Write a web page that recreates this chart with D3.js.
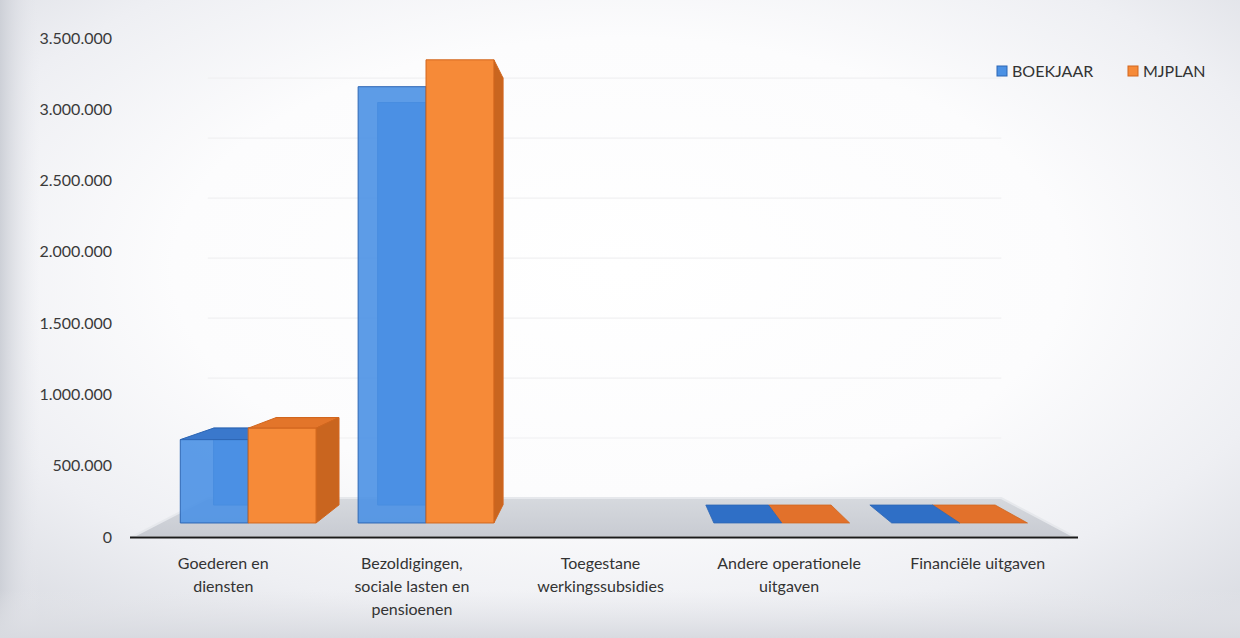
<!DOCTYPE html>
<html>
<head>
<meta charset="utf-8">
<script src="https://cdn.jsdelivr.net/npm/d3@7"></script>
<style>
  html, body { margin: 0; padding: 0; background: #ffffff; }
  svg { display: block; }
  text { font-family: Lato, "Open Sans", sans-serif; fill: #333; }
</style>
</head>
<body>
<svg id="chart" width="1240" height="638"></svg>
<script>
// ---- data ----
const categories = [
  "Goederen en diensten",
  "Bezoldigingen, sociale lasten en pensioenen",
  "Toegestane werkingssubsidies",
  "Andere operationele uitgaven",
  "Financiële uitgaven"
];
const categoryLines = [
  ["Goederen en", "diensten"],
  ["Bezoldigingen,", "sociale lasten en", "pensioenen"],
  ["Toegestane", "werkingssubsidies"],
  ["Andere operationele", "uitgaven"],
  ["Financiële uitgaven"]
];
const seriesNames = ["BOEKJAAR", "MJPLAN"];
const boekjaar = [620000, 3245000, null, 0, 0];
const mjplan   = [705000, 3445000, null, 0, 0];
const yTicks = [0, 500000, 1000000, 1500000, 2000000, 2500000, 3000000, 3500000];
const yTickLabels = ["0", "500.000", "1.000.000", "1.500.000", "2.000.000", "2.500.000", "3.000.000", "3.500.000"];

// ---- layout ----
const W = 1240, H = 638;
const svg = d3.select("#chart");
const defs = svg.append("defs");

// background vignette
const bg = defs.append("radialGradient").attr("id", "bg")
  .attr("cx", "0.5").attr("cy", "0.42").attr("r", "0.72");
bg.append("stop").attr("offset", "0").attr("stop-color", "#ffffff");
bg.append("stop").attr("offset", "0.5").attr("stop-color", "#fcfcfd");
bg.append("stop").attr("offset", "0.78").attr("stop-color", "#eeeff3");
bg.append("stop").attr("offset", "1").attr("stop-color", "#dcdee4");
svg.append("rect").attr("width", W).attr("height", H).attr("fill", "url(#bg)");
const leftStrip = defs.append("linearGradient").attr("id", "ls").attr("x1", 0).attr("x2", 1);
leftStrip.append("stop").attr("offset", 0).attr("stop-color", "#cdd0d7").attr("stop-opacity", 1);
leftStrip.append("stop").attr("offset", 1).attr("stop-color", "#e8e9ee").attr("stop-opacity", 0);
svg.append("rect").attr("x", 0).attr("y", 0).attr("width", 40).attr("height", H).attr("fill", "url(#ls)");
const botStrip = defs.append("linearGradient").attr("id", "bs").attr("x1", 0).attr("x2", 0).attr("y1", 0).attr("y2", 1);
botStrip.append("stop").attr("offset", 0).attr("stop-color", "#e6e7eb").attr("stop-opacity", 0);
botStrip.append("stop").attr("offset", 1).attr("stop-color", "#d8dae0").attr("stop-opacity", 1);
svg.append("rect").attr("x", 0).attr("y", 590).attr("width", W).attr("height", 48).attr("fill", "url(#bs)");

// scales (front plane)
const y = d3.scaleLinear().domain([0, 3500000]).range([537, 38]);
const x = d3.scaleBand().domain(categories).range([132, 1075]).paddingInner(0).paddingOuter(0);
const xs = d3.scaleBand().domain(seriesNames).range([0, x.bandwidth()]).paddingInner(0).paddingOuter(0.31);

// one-point perspective
const VX = 610, VY = 291;
const K1 = 0.057, K2 = 0.130, KF = 0.1585;
const P = (xf, yf, k) => [xf + (VX - xf) * k, yf + (VY - yf) * k];
const poly = pts => "M" + pts.map(p => p[0].toFixed(2) + "," + p[1].toFixed(2)).join("L") + "Z";

// floor
const floorG = defs.append("linearGradient").attr("id", "floor").attr("x1", 0).attr("x2", 0).attr("y1", 0).attr("y2", 1);
floorG.append("stop").attr("offset", 0).attr("stop-color", "#d6d9de");
floorG.append("stop").attr("offset", 1).attr("stop-color", "#c8cbd2");
const fx0 = x.range()[0], fx1 = x.range()[1], fy = y(0);
svg.append("path")
  .attr("d", poly([P(fx0, fy, 0), P(fx1, fy, 0), P(fx1, fy, KF), P(fx0, fy, KF)]))
  .attr("fill", "url(#floor)").attr("stroke", "#e6e8ec").attr("stroke-width", 2);

// gridlines on back wall
svg.append("g").selectAll("line").data(yTicks.filter(t => t > 0)).join("line")
  .attr("x1", d => P(fx0, y(d), KF)[0]).attr("y1", d => P(fx0, y(d), KF)[1])
  .attr("x2", d => P(fx1, y(d), KF)[0]).attr("y2", d => P(fx1, y(d), KF)[1])
  .attr("stroke", "#f0f0f2").attr("stroke-width", 1.2);

// axis line
svg.append("line").attr("x1", 130).attr("x2", 1078).attr("y1", fy + 0.5).attr("y2", fy + 0.5)
  .attr("stroke", "#1a1a1a").attr("stroke-width", 2.2);

// y labels
svg.append("g").selectAll("text").data(yTicks).join("text")
  .attr("x", 112).attr("y", d => y(d)).attr("dy", "0.35em")
  .attr("text-anchor", "end").style("font-size", "16px").style("fill", "#3a3a3a")
  .text((d, i) => yTickLabels[i]);

// bars
const colors = {
  BOEKJAAR: { front: "#4b91e4", back: "#4587da", top: "#3a78cc", side: "#2f66b6", stroke: "#2d66b4", flat: "#2f6fc6", op: 0.9 },
  MJPLAN:   { front: "#f68a38", back: "#f08232", top: "#e3752a", side: "#c9651f", stroke: "#d1661e", flat: "#e2712b", op: 1 }
};
const bars = [];
categories.forEach((c, i) => {
  [["BOEKJAAR", boekjaar[i]], ["MJPLAN", mjplan[i]]].forEach(([s, v]) => {
    if (v === null || v === undefined) return;
    const x0 = x(c) + xs(s), x1 = x0 + xs.bandwidth();
    bars.push({ c, s, v, x0, x1 });
  });
});
// draw farthest-from-vanishing-point first
bars.sort((a, b) => Math.abs((b.x0 + b.x1) / 2 - VX) - Math.abs((a.x0 + a.x1) / 2 - VX));

const barG = svg.append("g");
bars.forEach(b => {
  const col = colors[b.s];
  const yt = y(b.v), yb = y(0);
  const g = barG.append("g");
  if (b.v <= 0) {
    g.append("path").attr("d", poly([P(b.x0, yt, K1), P(b.x1, yt, K1), P(b.x1, yt, K2), P(b.x0, yt, K2)]))
      .attr("fill", col.flat).attr("stroke", col.stroke).attr("stroke-width", 0.8);
    return;
  }
  // back face (seen through transparency)
  g.append("path").attr("d", poly([P(b.x0, yt, K2), P(b.x1, yt, K2), P(b.x1, yb, K2), P(b.x0, yb, K2)]))
    .attr("fill", col.back).attr("stroke", col.stroke).attr("stroke-width", 1);
  // top
  if (yt > VY) {
    g.append("path").attr("d", poly([P(b.x0, yt, K1), P(b.x1, yt, K1), P(b.x1, yt, K2), P(b.x0, yt, K2)]))
      .attr("fill", col.top).attr("stroke", col.stroke).attr("stroke-width", 1);
  }
  // side
  const p1 = P(b.x1, yt, K1)[0], p0 = P(b.x0, yt, K1)[0];
  if (p1 < VX) {
    g.append("path").attr("d", poly([P(b.x1, yt, K1), P(b.x1, yt, K2), P(b.x1, yb, K2), P(b.x1, yb, K1)]))
      .attr("fill", col.side).attr("stroke", col.stroke).attr("stroke-width", 1);
  } else if (p0 > VX) {
    g.append("path").attr("d", poly([P(b.x0, yt, K1), P(b.x0, yt, K2), P(b.x0, yb, K2), P(b.x0, yb, K1)]))
      .attr("fill", col.side).attr("stroke", col.stroke).attr("stroke-width", 1);
  }
  // front
  g.append("path").attr("d", poly([P(b.x0, yt, K1), P(b.x1, yt, K1), P(b.x1, yb, K1), P(b.x0, yb, K1)]))
    .attr("fill", col.front).attr("fill-opacity", col.op).attr("stroke", col.stroke).attr("stroke-width", 1);
});

// x labels
const xl = svg.append("g");
categories.forEach((c, i) => {
  const cx = x(c) + x.bandwidth() / 2 - 3;
  const t = xl.append("text").attr("x", cx).attr("y", 569).attr("text-anchor", "middle")
    .style("font-size", "16px").style("fill", "#333");
  categoryLines[i].forEach((ln, j) => {
    t.append("tspan").attr("x", cx).attr("dy", j === 0 ? 0 : 23).text(ln);
  });
});

// legend
const legend = svg.append("g");
const legendX = [997, 1128];
seriesNames.forEach((s, i) => {
  legend.append("rect").attr("x", legendX[i]).attr("y", 66).attr("width", 10).attr("height", 10)
    .attr("fill", colors[s].front).attr("stroke", colors[s].stroke).attr("stroke-width", 1);
  legend.append("text").attr("x", legendX[i] + 15).attr("y", 71).attr("dy", "0.35em")
    .style("font-size", "16px").style("fill", "#333").text(s);
});
</script>
</body>
</html>
